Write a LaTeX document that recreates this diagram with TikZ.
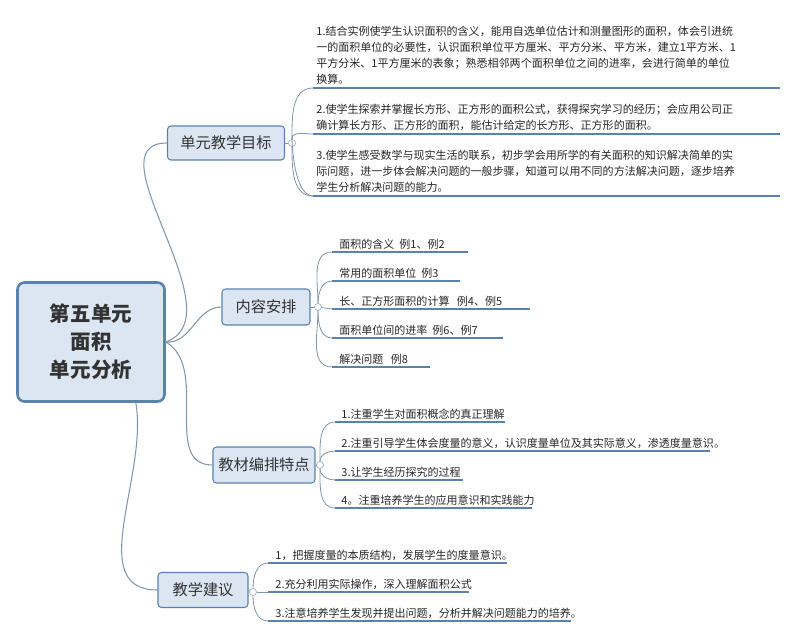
\documentclass[tikz,border=0pt]{standalone}
\usepackage{fontspec}
\setmainfont{Noto Sans CJK SC}
\begin{document}
\begin{tikzpicture}[x=0.03cm,y=-0.03cm,
  rootbox/.style={draw=blue1,line width=2.2pt,fill=fillb,rounded corners=6pt,align=center,font=\bfseries\fontsize{17.5}{24}\selectfont,text=txtc},
  brbox/.style={draw=blue1,line width=0.9pt,fill=fillb,rounded corners=3pt,font=\fontsize{13}{15}\selectfont,text=txtc,inner sep=0pt},
  ul/.style={draw=blue1,line width=1.6pt},
  conn/.style={draw=linec,line width=0.7pt},
  knob/.style={circle,draw=linec,fill=white,inner sep=0pt,minimum size=6pt},
  leaf/.style={anchor=south west,font=\fontsize{9.4}{13.6}\selectfont,align=left,inner sep=1pt,text=black!85}]
\definecolor{blue1}{HTML}{5A82AE}
\definecolor{fillb}{HTML}{DCE6F2}
\definecolor{txtc}{HTML}{333333}
\definecolor{linec}{HTML}{8296AA}
\useasboundingbox (0,0) rectangle (800,637);
% root
\node[rootbox,minimum width=147*0.03cm,minimum height=119*0.03cm] (root) at (91,342) {第五单元\\面积\\单元分析};
% branches
\node[brbox,minimum width=117*0.03cm,minimum height=34*0.03cm] (b1) at (226,143) {单元教学目标};
\node[brbox,minimum width=88*0.03cm,minimum height=36*0.03cm] (b2) at (266,307) {内容安排};
\node[brbox,minimum width=102*0.03cm,minimum height=36*0.03cm] (b3) at (264,465) {教材编排特点};
\node[brbox,minimum width=90*0.03cm,minimum height=35*0.03cm] (b4) at (203,590) {教学建议};
\draw[conn,line width=0.9pt] (root.east) to[out=20,in=180] (b1.west);
\draw[conn,line width=0.9pt] (root.east) to[out=-5,in=180] (b2.west);
\draw[conn,line width=0.9pt] (root.east) to[out=-30,in=180] (b3.west);
\draw[conn,line width=0.9pt] (root.south east) ++(-30,0) coordinate (rs) (rs) to[out=-80,in=180] (b4.west);
% knobs
\node[knob] (k1) at (292,143) {};
\node[knob] (k2) at (318,307) {};
\node[knob] (k3) at (320,465) {};
\node[knob] (k4) at (253,592) {};
\draw[conn] (b1.east) -- (k1); \draw[conn] (b2.east) -- (k2);
\draw[conn] (b3.east) -- (k3); \draw[conn] (b4.east) -- (k4);
% goal leaves
\foreach \n/\y in {g1/88,g2/134,g3/196}{
  \coordinate (\n a) at (313,\y); \coordinate (\n b) at (780,\y);
  \draw[ul] (\n a) -- (\n b);
  \draw[conn] (k1) to[out=90,in=180] (\n a);}
\draw[conn] (k1) to[out=-90,in=180] (g3a);
\node[leaf] at (315,86) {1.结合实例使学生认识面积的含义，能用自选单位估计和测量图形的面积，体会引进统\\一的面积单位的必要性，认识面积单位平方厘米、平方分米、平方米，建立1平方米、1\\平方分米、1平方厘米的表象；熟悉相邻两个面积单位之间的进率，会进行简单的单位\\换算。};
\node[leaf] at (315,132) {2.使学生探索并掌握长方形、正方形的面积公式，获得探究学习的经历；会应用公司正\\确计算长方形、正方形的面积，能估计给定的长方形、正方形的面积。};
\node[leaf] at (315,194) {3.使学生感受数学与现实生活的联系，初步学会用所学的有关面积的知识解决简单的实\\际问题，进一步体会解决问题的一般步骤，知道可以用不同的方法解决问题，逐步培养\\学生分析解决问题的能力。};
% content leaves
\foreach \n/\y/\e/\t in {c1/252/468/{面积的含义\ \ 例1、例2},c2/281/460/{常用的面积单位\ \ 例3},c3/309/530/{长、正方形面积的计算\ \ \ 例4、例5},c4/338/503/{面积单位间的进率\ \ 例6、例7},c5/367/430/{解决问题\ \ \ 例8}}{
  \coordinate (\n a) at (332,\y); \coordinate (\n b) at (\e,\y);
  \draw[ul] (\n a) -- (\n b);
  \node[leaf] at (338,\y-1) {\t};}
\draw[conn] (k2) to[out=90,in=180] (c1a); \draw[conn] (k2) to[out=90,in=180] (c2a);
\draw[conn] (k2) -- (c3a);
\draw[conn] (k2) to[out=-90,in=180] (c4a); \draw[conn] (k2) to[out=-90,in=180] (c5a);
% feature leaves
\foreach \n/\y/\e/\t in {f1/422/505/{1.注重学生对面积概念的真正理解},f2/451/710/{2.注重引导学生体会度量的意义，认识度量单位及其实际意义，渗透度量意识。},f3/480/463/{3.让学生经历探究的过程},f4/508/532/{4。注重培养学生的应用意识和实践能力}}{
  \coordinate (\n a) at (335,\y); \coordinate (\n b) at (\e,\y);
  \draw[ul] (\n a) -- (\n b);
  \node[leaf] at (340,\y-1) {\t};}
\draw[conn] (k3) to[out=90,in=180] (f1a); \draw[conn] (k3) to[out=90,in=180] (f2a);
\draw[conn] (k3) to[out=-90,in=180] (f3a); \draw[conn] (k3) to[out=-90,in=180] (f4a);
% suggestion leaves
\foreach \n/\y/\e/\t in {s1/563/507/{1，把握度量的本质结构，发展学生的度量意识。},s2/592/469/{2.充分利用实际操作，深入理解面积公式},s3/621/571/{3.注意培养学生发现并提出问题，分析并解决问题能力的培养。}}{
  \coordinate (\n a) at (268,\y); \coordinate (\n b) at (\e,\y);
  \draw[ul] (\n a) -- (\n b);
  \node[leaf] at (274,\y-1) {\t};}
\draw[conn] (k4) to[out=90,in=180] (s1a); \draw[conn] (k4) -- (s2a);
\draw[conn] (k4) to[out=-90,in=180] (s3a);
\end{tikzpicture}
\end{document}
